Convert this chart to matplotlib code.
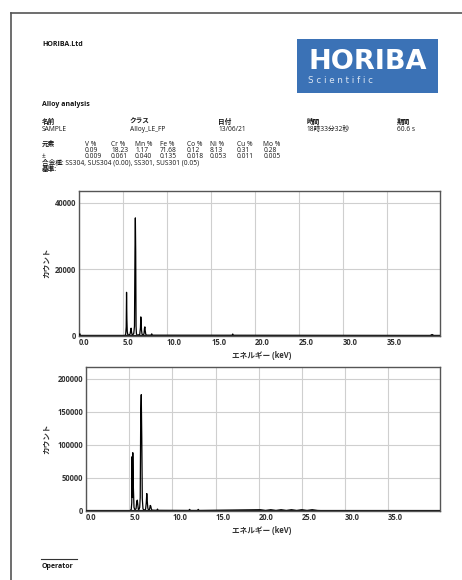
"""HORIBA alloy analysis report page: header table and two XRF spectra."""

import matplotlib
matplotlib.use('Agg')
import matplotlib.pyplot as plt
from matplotlib.patches import Rectangle
from matplotlib.lines import Line2D

plt.rcParams['font.family'] = ['Open Sans', 'Noto Sans CJK JP', 'DejaVu Sans']

W, H = 462, 580

# header table
hdr_labels = ['名前', 'クラス', '日付', '時間', '期間']
hdr_values = ['SAMPLE', 'Alloy_LE_FP', '13/06/21', '18時33分32秒', '60.6 s']
elements = ['V %', 'Cr %', 'Mn %', 'Fe %', 'Co %', 'Ni %', 'Cu %', 'Mo %']
conc = ['0.09', '18.23', '1.17', '71.68', '0.12', '8.13', '0.31', '0.28']
err = ['0.009', '0.061', '0.040', '0.135', '0.018', '0.053', '0.011', '0.005']
grade_line = '合金種: SS304, SUS304 (0.00), SS301, SUS301 (0.05)'

# spectrum 1 (keV, counts)
e1 = [0.00, 0.10, 0.16, 5.20, 5.30, 5.36, 5.40, 5.44, 5.48, 5.54, 5.62, 5.80,
      5.88, 5.92, 5.96, 6.02, 6.10, 6.22, 6.30, 6.36, 6.40, 6.44, 6.48, 6.52,
      6.58, 6.66, 6.90, 6.98, 7.02, 7.06, 7.10, 7.16, 7.22, 7.38, 7.44, 7.48,
      7.52, 7.58, 7.66, 8.18, 8.26, 8.34, 17.38, 17.46, 17.54, 39.9, 40.1,
      40.3, 41.0]
c1 = [0, 500, 0, 0, 300, 2600, 13000, 4800, 1200, 300, 100, 400,
      1800, 2200, 1200, 300, 200, 600, 2800, 26000, 35400, 25200, 2800, 600,
      200, 100, 300, 2400, 5600, 4200, 1600, 400, 200, 400, 2200, 2600,
      1500, 400, 100, 80, 500, 80, 60, 450, 60, 0, 300, 0, 0]

# spectrum 2 (keV, counts)
e2 = [0.00, 5.10, 5.24, 5.30, 5.34, 5.38, 5.42, 5.48, 5.56, 5.66, 5.80, 5.88,
      5.94, 6.00, 6.06, 6.14, 6.22, 6.28, 6.34, 6.40, 6.46, 6.52, 6.60, 6.70,
      6.90, 6.98, 7.04, 7.10, 7.16, 7.24, 7.36, 7.44, 7.50, 7.56, 7.64, 8.20,
      8.28, 8.36, 11.9, 12.0, 12.1, 12.9, 13.0, 13.1, 20.2, 20.8, 21.4, 22.0,
      22.6, 23.2, 23.8, 24.4, 25.0, 25.6, 26.2, 26.8, 27.4, 41.0]
c2 = [0, 0, 2000, 12000, 82000, 20000, 88000, 38000, 5000, 1500, 3000, 14000,
      16000, 9000, 2000, 2000, 5000, 20000, 150000, 176000, 110000, 18000, 3000, 800,
      2000, 12000, 26000, 14000, 4000, 1000, 2000, 8000, 7000, 3000, 800, 500,
      2500, 500, 300, 2000, 300, 300, 2000, 300, 1500, 300, 1500, 300,
      1500, 300, 1500, 300, 1500, 300, 1500, 300, 0, 0]

xticks = [0, 5, 10, 15, 20, 25, 30, 35]
yticks1 = [0, 20000, 40000]
yticks2 = [0, 50000, 100000, 150000, 200000]

fig = plt.figure(figsize=(W / 100, H / 100), dpi=100)


def fx(x):
    return x / W


def fy(y):
    return 1 - y / H


# page border (left and top edges of the scanned page)
fig.add_artist(Line2D([fx(11), fx(11)], [fy(13), 0], color='#555555', lw=1.2))
fig.add_artist(Line2D([fx(11), 1], [fy(13), fy(13)], color='#555555', lw=1.2))

# logo
fig.add_artist(Rectangle((fx(297), fy(93)), fx(438) - fx(297), fy(39) - fy(93),
                         transform=fig.transFigure, color='#3b72b6', lw=0))
fig.text(fx(368), fy(62), 'HORIBA', color='white', fontsize=19.5,
         fontweight='bold', family='DejaVu Sans', ha='center', va='center')
fig.text(fx(308), fy(80), 'S c i e n t i f i c', color='#dde7f4', fontsize=6.3,
         family='DejaVu Sans', ha='left', va='center')

txt = dict(fontsize=4.8, color='#151515', va='center')
fig.text(fx(42), fy(44), 'HORIBA.Ltd', fontweight='bold', **dict(txt, fontsize=5))
fig.text(fx(42), fy(104), 'Alloy analysis', fontweight='bold', **dict(txt, fontsize=5))

hdr_x = [42, 130, 218, 306.7, 396.7]
for x, lab, val in zip(hdr_x, hdr_labels, hdr_values):
    fig.text(fx(x), fy(122.5), lab, fontweight='bold', **txt)
    fig.text(fx(x), fy(129.5), val, **txt)

el_x = [85, 111, 135, 160, 186.7, 210, 236.7, 263.3]
fig.text(fx(42), fy(144.5), '元素', fontweight='bold', **txt)
fig.text(fx(42), fy(156.3), '±', **txt)
for x, el, c, e in zip(el_x, elements, conc, err):
    fig.text(fx(x), fy(144.5), el, **txt)
    fig.text(fx(x), fy(150.5), c, **txt)
    fig.text(fx(x), fy(156.5), e, **txt)
fig.text(fx(42), fy(163), grade_line, **txt)
fig.text(fx(42), fy(169), '基準:', fontweight='bold', **txt)

# operator signature line
fig.add_artist(Line2D([fx(41), fx(77)], [fy(559), fy(559)], color='#333333', lw=0.8))
fig.text(fx(42), fy(566), 'Operator', fontweight='bold', **dict(txt, fontsize=5))


def spectrum_axes(rect, e, c, yticks, ytop, ylab_x, xlab_x):
    ax = fig.add_axes(rect)
    ax.plot(e, c, color='black', lw=0.9, zorder=3)
    ax.axhline(0, color='#222222', lw=1.6, zorder=4)
    ax.set_xlim(0, 41)
    ax.set_ylim(0, ytop)
    ax.set_xticks(xticks)
    ax.set_xticklabels([f'{t:.1f}' for t in xticks], ha='left')
    ax.set_yticks(yticks)
    ax.set_yticklabels([str(t) for t in yticks])
    ax.tick_params(length=0, labelsize=5.5, colors='#333333', pad=2)
    for lab in ax.get_xticklabels() + ax.get_yticklabels():
        lab.set_fontweight('bold')
    ax.grid(True, color='#cfcfcf', lw=0.8)
    ax.set_axisbelow(True)
    for s in ax.spines.values():
        s.set_color('#555555')
        s.set_linewidth(1.0)
    ax.set_ylabel('カウント', fontsize=5.5, fontweight='bold', color='#333333')
    ax.yaxis.set_label_coords(ylab_x, 0.5)
    ax.set_xlabel('エネルギー (keV)', fontsize=5.5, fontweight='bold', color='#333333')
    ax.xaxis.set_label_coords(xlab_x, -0.105)
    return ax


spectrum_axes([fx(79), fy(335.5), fx(440) - fx(79), fy(191) - fy(335.5)],
              e1, c1, yticks1, 43500, -0.077, 0.507)
spectrum_axes([fx(86), fy(510.7), fx(440) - fx(86), fy(367) - fy(510.7)],
              e2, c2, yticks2, 218000, -0.10, 0.497)

fig.savefig('out.png', dpi=100)
